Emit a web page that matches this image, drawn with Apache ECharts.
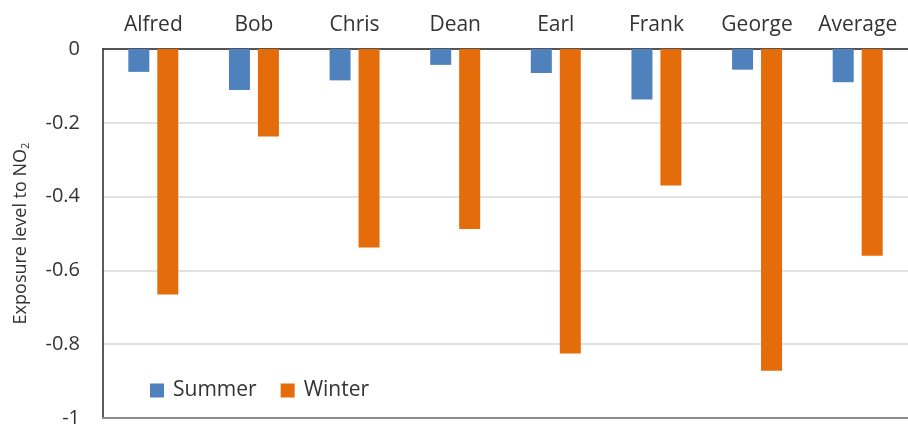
<!DOCTYPE html>
<html><head><meta charset="utf-8">
<script src="https://cdn.jsdelivr.net/npm/echarts@6/dist/echarts.min.js"></script>
<style>html,body{margin:0;padding:0;background:#fff}#c{width:908px;height:428px}</style>
</head><body><div id="c"></div>
<script>
const categories = ['Alfred','Bob','Chris','Dean','Earl','Frank','George','Average'];
const summer = [-0.062,-0.111,-0.085,-0.043,-0.065,-0.137,-0.056,-0.090];
const winter = [-0.665,-0.237,-0.538,-0.488,-0.825,-0.370,-0.872,-0.560];
const yTicks = [0,-0.2,-0.4,-0.6,-0.8,-1];

const font = 'Open Sans';
const txt = '#333333';
const chart = echarts.init(document.getElementById('c'), null, {renderer:'canvas'});
chart.setOption({
  animation:false,
  textStyle:{fontFamily:font},
  grid:{left:103,top:49,width:813,height:370,containLabel:false},
  legend:{
    left:145, top:375, itemWidth:14, itemHeight:14, itemGap:24,
    icon:'rect',
    textStyle:{fontFamily:font,fontSize:21,color:txt,padding:[0,0,0,4]},
    data:['Summer','Winter']
  },
  xAxis:[{
    type:'category', position:'top', data:categories,
    axisLine:{lineStyle:{color:'#262626',width:1.5}},
    axisTick:{inside:true,length:7,lineStyle:{color:'#262626'}},
    axisLabel:{fontFamily:font,fontSize:21,color:txt,margin:13,interval:0}
  },{
    type:'category', position:'bottom', data:categories,
    axisLine:{lineStyle:{color:'#8c8c8c',width:2}},
    axisTick:{show:false}, axisLabel:{show:false}
  }],
  yAxis:{
    type:'value', min:-1, max:0, interval:0.2,
    axisLine:{show:true,lineStyle:{color:'#262626',width:1.5}},
    axisTick:{show:false},
    splitLine:{lineStyle:{color:'#d9d9d9',width:1.5}},
    axisLabel:{fontFamily:font,fontSize:20,color:txt,margin:23,
      formatter:v=>{const t=yTicks.find(x=>Math.abs(x-v)<1e-9);return String(t===undefined?v:t);}},
    name:'{a|Exposure level to NO}{s|2}',
    nameLocation:'middle', nameGap:72, nameRotate:90,
    nameTextStyle:{rich:{
      a:{fontFamily:font,fontSize:18,color:txt},
      s:{fontFamily:font,fontSize:11,color:txt,verticalAlign:'bottom',padding:[9,0,0,0]}
    }}
  },
  series:[
    {name:'Summer',type:'bar',data:summer,barWidth:21,barGap:'38%',itemStyle:{color:'#4F81BD'}},
    {name:'Winter',type:'bar',data:winter,barWidth:21,barGap:'38%',itemStyle:{color:'#E46C0A'}}
  ]
});
</script></body></html>
